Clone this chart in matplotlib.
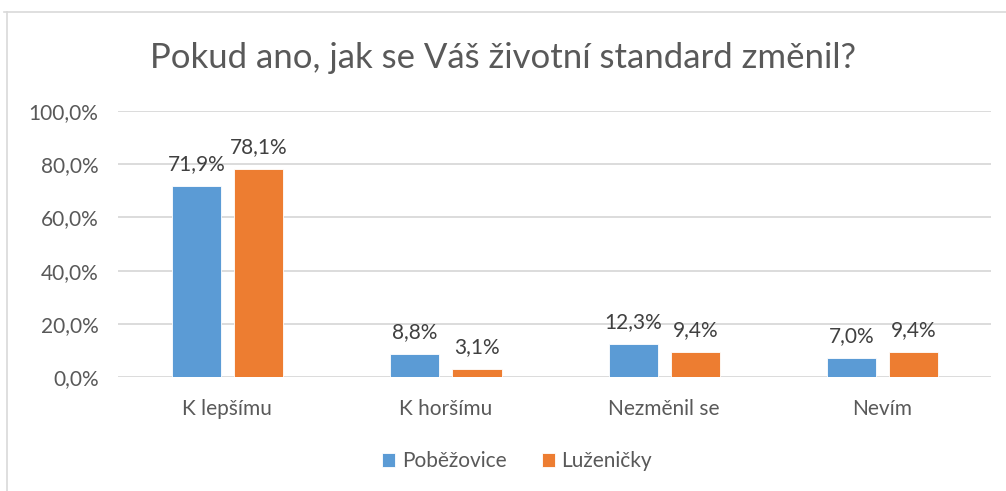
import matplotlib
matplotlib.use("Agg")
import matplotlib.pyplot as plt
import numpy as np
from matplotlib.lines import Line2D

categories = ["K lepšímu", "K horšímu", "Nezměnil se", "Nevím"]
series_names = ["Poběžovice", "Luženičky"]
pobezovice = [71.9, 8.8, 12.3, 7.0]
luzenicky = [78.1, 3.1, 9.4, 9.4]
yticks = [0, 20, 40, 60, 80, 100]

colors = ["#5B9BD5", "#ED7D31"]
text_col = "#595959"
grid_col = "#D9D9D9"

plt.rcParams['font.family'] = ['Lato', 'DejaVu Sans']

W, H = 1006, 491
fig = plt.figure(figsize=(W / 100, H / 100), dpi=100)
ax = fig.add_axes([118 / W, 1 - 377 / H, (991 - 118) / W, (377 - 111) / H])

x = np.arange(len(categories))
bw = 0.225
offs = [-0.14, 0.145]
for vals, off, c, name in zip([pobezovice, luzenicky], offs, colors, series_names):
    bars = ax.bar(x + off, vals, width=bw, color=c, edgecolor="white", linewidth=0.6,
                  label=name, zorder=3)
    for b, v in zip(bars, vals):
        ax.text(b.get_x() + b.get_width() / 2, v + 4.5,
                f"{v:.1f}%".replace(".", ","), ha="center", va="bottom",
                fontsize=15, color="#404040", zorder=4)

ax.set_xlim(-0.5, len(categories) - 0.5)
ax.set_ylim(0, 100)
ax.set_yticks(yticks)
ax.set_yticklabels([f"{t:.1f}%".replace(".", ",") for t in yticks])
ax.set_xticks(x)
ax.set_xticklabels(categories)
ax.tick_params(axis="both", length=0, labelsize=15, colors=text_col)
ax.tick_params(axis="y", pad=14)
ax.tick_params(axis="x", pad=16)
ax.grid(axis="y", color=grid_col, linewidth=1.3, zorder=0)
for s in ax.spines.values():
    s.set_visible(False)

fig.text(0.5, 1 - 58 / H, "Pokud ano, jak se Váš životní standard změnil?",
         ha="center", va="center", fontsize=25, color=text_col)

leg = fig.legend(loc="center", bbox_to_anchor=(517 / W, 1 - 461 / H), ncol=2,
                 frameon=False, fontsize=15, handlelength=0.65, handleheight=0.65,
                 handletextpad=0.3, columnspacing=1.7, labelcolor=text_col)

# chart border (top and left visible)
fig.add_artist(Line2D([4 / W, 1], [1 - 12 / H, 1 - 12 / H], color="#D9D9D9", linewidth=1.2,
                      transform=fig.transFigure))
fig.add_artist(Line2D([7 / W, 7 / W], [1 - 12 / H, 0], color="#D9D9D9", linewidth=1.2,
                      transform=fig.transFigure))

fig.savefig("out.png", dpi=100)
